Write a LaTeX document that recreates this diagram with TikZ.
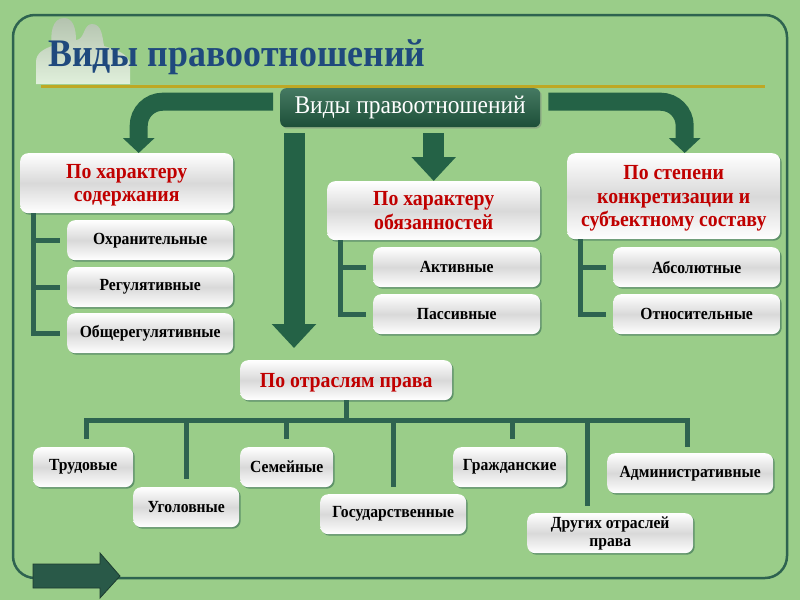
\documentclass[tikz,border=0pt]{standalone}
\usepackage{fontspec}
\setmainfont[FakeStretch=0.92]{Liberation Serif}
\usetikzlibrary{arrows.meta,shadows}

\definecolor{bggreen}{RGB}{154,205,137}
\definecolor{framegreen}{RGB}{46,99,80}
\definecolor{arrowgreen}{RGB}{36,98,70}
\definecolor{titleblue}{RGB}{31,73,125}
\definecolor{olivebar}{RGB}{190,168,36}
\definecolor{redtext}{RGB}{192,0,0}

\begin{document}
\begin{tikzpicture}[x=1pt,y=-1pt]

    \tikzset{
      card/.style={
        anchor=north west,
        align=center,
        inner sep=2pt,
        rounded corners=8pt,
        top color=white,
        bottom color=white,
        middle color=gray!30,
        drop shadow={shadow xshift=1.5pt,shadow yshift=-1.5pt,opacity=.55,fill=framegreen},
        font=\bfseries\fontsize{17}{18}\selectfont,
      },
      headcard/.style={
        card,
        text=redtext,
        text depth=-4pt,
        font=\bfseries\fontsize{21.5}{23.5}\selectfont,
      },
      bracket/.style={
        draw=framegreen,
        line width=5pt,
      },
      bendarrow/.style={
        draw=arrowgreen,
        line width=18pt,
        rounded corners=24pt,
        -{Triangle[width=31pt,length=15pt]},
      },
      droparrow/.style={
        draw=arrowgreen,
        line width=21pt,
        -{Triangle[width=43pt,length=24pt]},
      },
    }
    \fill[bggreen] (0,0) rectangle (800,600);
    \useasboundingbox (0,0) rectangle (800,600);

    % frame and title
    \draw[framegreen,line width=2.5pt,rounded corners=22pt] (13,15) rectangle (787,578);
    \shade[top color=gray!50,bottom color=white,opacity=.7]
      (36,84) -- (36,62) to[out=90,in=200] (52,46) to[out=100,in=180] (64,18)
      to[out=0,in=90] (76,40) to[out=0,in=180] (92,24) to[out=0,in=100] (104,46)
      to[out=-20,in=90] (130,66) -- (130,84) -- cycle;
    \draw[olivebar,line width=3pt] (41,86) -- (765,86);
    \node[anchor=base west,inner sep=0pt,text=titleblue,font=\bfseries\fontsize{39}{42}\selectfont] (title) at (48,66) {Виды правоотношений};

    % top box
    \node[anchor=north west,minimum width=260pt,minimum height=39pt,rounded corners=6pt,
      top color=arrowgreen!85!white,bottom color=arrowgreen!80!black,text=white,
      font=\fontsize{25.5}{28}\selectfont,
      drop shadow={shadow xshift=1.5pt,shadow yshift=-1.5pt,opacity=.4}] (hdr) at (280,88) {Виды правоотношений};

    % groups
    \node[headcard,minimum width=213pt,minimum height=60pt] (hA) at (20,153) {По характеру\\содержания};
    \node[card,minimum width=166pt,minimum height=40pt] (a1) at (67,220) {Охранительные};
    \node[card,minimum width=166pt,minimum height=40pt] (a2) at (67,267) {Регулятивные};
    \node[card,minimum width=166pt,minimum height=40pt] (a3) at (67,313) {Общерегулятивные};

    \node[headcard,minimum width=213pt,minimum height=59pt] (hB) at (327,181) {По характеру\\обязанностей};
    \node[card,minimum width=167pt,minimum height=40pt] (b1) at (373,247) {Активные};
    \node[card,minimum width=167pt,minimum height=40pt] (b2) at (373,294) {Пассивные};

    \node[headcard,minimum width=213pt,minimum height=86pt] (hC) at (567,153) {По степени\\конкретизации и\\субъектному составу};
    \node[card,minimum width=167pt,minimum height=40pt] (c1) at (613,247) {Абсолютные};
    \node[card,minimum width=167pt,minimum height=40pt] (c2) at (613,294) {Относительные};

    \node[headcard,minimum width=212pt,minimum height=40pt] (hD) at (240,360) {По отраслям права};
    \node[card,minimum width=100pt,minimum height=40pt] (t1) at (33,447) {Трудовые};
    \node[card,minimum width=106pt,minimum height=40pt] (t2) at (133,487) {Уголовные};
    \node[card,minimum width=93pt,minimum height=40pt] (t3) at (240,447) {Семейные};
    \node[card,minimum width=146pt,minimum height=40pt] (t4) at (320,494) {Государственные};
    \node[card,minimum width=113pt,minimum height=40pt] (t5) at (453,447) {Гражданские};
    \node[card,minimum width=166pt,minimum height=40pt] (t6) at (527,513) {Других отраслей\\права};
    \node[card,minimum width=166pt,minimum height=40pt] (t7) at (607,453) {Административные};

    % arrows from the top box
    \coordinate (bigtip) at (294,348);
    \draw[bendarrow] ([xshift=-7pt,yshift=6pt]hdr.west) -| ([xshift=12pt]hA.north);
    \draw[bendarrow] ([xshift=8pt,yshift=6pt]hdr.east) -| ([xshift=11pt]hC.north);
    \draw[droparrow] ([xshift=14pt,yshift=-6pt]hdr.south west) -- (bigtip);
    \draw[droparrow] ([yshift=-6pt]hdr.south -| hB.north) -- (hB.north);

    % brackets
    \draw[bracket] ([xshift=13pt]hA.south west) |- ([xshift=-7pt]a3.west);
    \draw[bracket] ([xshift=13pt]hA.south west |- a1.west) -- ([xshift=-7pt]a1.west);
    \draw[bracket] ([xshift=13pt]hA.south west |- a2.west) -- ([xshift=-7pt]a2.west);
    \draw[bracket] ([xshift=13pt]hB.south west) |- ([xshift=-7pt]b2.west);
    \draw[bracket] ([xshift=13pt]hB.south west |- b1.west) -- ([xshift=-7pt]b1.west);
    \draw[bracket] ([xshift=13pt]hC.south west) |- ([xshift=-7pt]c2.west);
    \draw[bracket] ([xshift=13pt]hC.south west |- c1.west) -- ([xshift=-7pt]c1.west);

    % branches
    \coordinate (barL) at (86,420);
    \coordinate (barR) at (687,420);
    \draw[bracket] (hD.south) -- (hD.south |- barL);
    \draw[bracket,line cap=rect] (barL) -- (barR);
    \draw[bracket] ([xshift=3pt]t1.north |- barL) -- ([xshift=3pt,yshift=8pt]t1.north);
    \draw[bracket] (t2.north |- barL) -- ([yshift=8pt]t2.north);
    \draw[bracket] (t3.north |- barL) -- ([yshift=8pt]t3.north);
    \draw[bracket] (t4.north |- barL) -- ([yshift=7pt]t4.north);
    \draw[bracket] ([xshift=3pt]t5.north |- barL) -- ([xshift=3pt,yshift=8pt]t5.north);
    \draw[bracket] ([xshift=-23pt]t6.north |- barL) -- ([xshift=-23pt,yshift=7pt]t6.north);
    \draw[bracket] ([xshift=-3pt]t7.north |- barL) -- ([xshift=-3pt,yshift=6pt]t7.north);

    % bottom arrow
    \filldraw[fill=framegreen!90!black,draw=framegreen!60!black,line width=.8pt]
      (33,564) -- (100,564) -- (100,553) -- (120,576) -- (100,598) -- (100,588) -- (33,588) -- cycle;

\end{tikzpicture}
\end{document}
